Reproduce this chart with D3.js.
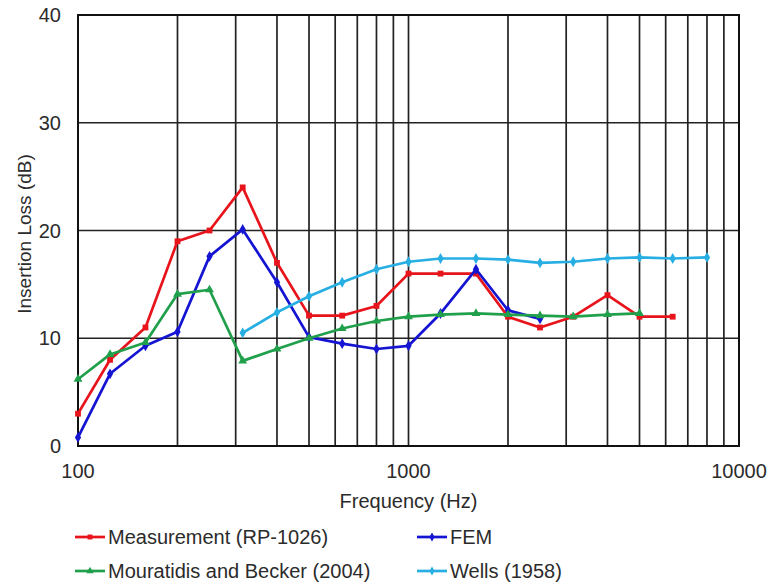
<!DOCTYPE html>
<html>
<head>
  <meta charset="utf-8">
  <script src="https://d3js.org/d3.v7.min.js"></script>
  <style>
    body { margin: 0; background: #fff; }
    text { font-family: "Liberation Sans", Arial, sans-serif; fill: #2b2b2b; }
  </style>
</head>
<body>
<script>
  var w = 771;
  var h = 585;

  // data
  var freqs = [100, 125, 160, 200, 250, 315, 400, 500, 630, 800, 1000, 1250, 1600, 2000, 2500, 3150, 4000, 5000, 6300, 8000];
  var measurement = [3.0, 8.0, 11.0, 19.0, 20.0, 24.0, 17.0, 12.1, 12.1, 13.0, 16.0, 16.0, 16.0, 12.0, 11.0, 12.0, 14.0, 12.0, 12.0, null];
  var fem = [0.8, 6.7, 9.3, 10.6, 17.6, 20.1, 15.2, 10.1, 9.5, 9.0, 9.3, 12.3, 16.4, 12.6, 11.8, null, null, null, null, null];
  var mouratidis = [6.2, 8.5, 9.6, 14.1, 14.5, 7.9, 9.0, 10.0, 10.9, 11.6, 12.0, 12.2, 12.3, 12.2, 12.1, 12.0, 12.2, 12.3, null, null];
  var wells = [null, null, null, null, null, 10.5, 12.4, 13.9, 15.2, 16.4, 17.1, 17.4, 17.4, 17.3, 17.0, 17.1, 17.4, 17.5, 17.4, 17.5];
  var seriesNames = ["Measurement (RP-1026)", "FEM", "Mouratidis and Becker (2004)", "Wells (1958)"];
  var seriesColors = ["#e8141c", "#1414d2", "#21a04c", "#27aee3"];
  var xTicks = [100, 1000, 10000];
  var yTicks = [0, 10, 20, 30, 40];

  var allSeries = [measurement, fem, mouratidis, wells];

  var pLeft = 78, pRight = 739, pTop = 15, pBottom = 446;

  var svg = d3.select("body").append("svg")
    .attr("width", w)
    .attr("height", h);

  var x = d3.scaleLog().domain([100, 10000]).range([pLeft, pRight]);
  var y = d3.scaleLinear().domain([0, 40]).range([pBottom, pTop]);

  // vertical grid at every log tick
  var gridX = x.ticks().filter(function(d){ return d > 100 && d < 10000; });
  svg.append("g").selectAll("line")
    .data(gridX)
    .enter().append("line")
    .attr("x1", function(d){ return x(d); })
    .attr("x2", function(d){ return x(d); })
    .attr("y1", pTop)
    .attr("y2", pBottom)
    .attr("stroke", "#222")
    .attr("stroke-width", 1.7);

  svg.append("g").selectAll("line")
    .data(yTicks.slice(1, -1))
    .enter().append("line")
    .attr("x1", pLeft)
    .attr("x2", pRight)
    .attr("y1", function(d){ return y(d); })
    .attr("y2", function(d){ return y(d); })
    .attr("stroke", "#222")
    .attr("stroke-width", 1.7);

  svg.append("rect")
    .attr("x", pLeft).attr("y", pTop)
    .attr("width", pRight - pLeft).attr("height", pBottom - pTop)
    .attr("fill", "none")
    .attr("stroke", "#111")
    .attr("stroke-width", 2);

  // tick labels
  svg.append("g").selectAll("text")
    .data(xTicks)
    .enter().append("text")
    .attr("x", function(d){ return x(d); })
    .attr("y", 478)
    .attr("text-anchor", "middle")
    .attr("font-size", 20)
    .text(function(d){ return d; });

  svg.append("g").selectAll("text")
    .data(yTicks)
    .enter().append("text")
    .attr("x", 61)
    .attr("y", function(d){ return y(d) + 7; })
    .attr("text-anchor", "end")
    .attr("font-size", 20)
    .text(function(d){ return d; });

  svg.append("text")
    .attr("x", x(1000))
    .attr("y", 508)
    .attr("text-anchor", "middle")
    .attr("font-size", 20)
    .text("Frequency (Hz)");

  svg.append("text")
    .attr("transform", "translate(31,234) rotate(-90)")
    .attr("text-anchor", "middle")
    .attr("font-size", 19)
    .text("Insertion Loss (dB)");

  var line = d3.line()
    .defined(function(d){ return d[1] != null; })
    .x(function(d){ return x(d[0]); })
    .y(function(d){ return y(d[1]); });

  var markerShapes = [d3.symbolSquare, d3.symbolDiamond, d3.symbolTriangle, d3.symbolDiamond];

  allSeries.forEach(function(vals, i){
    var pts = freqs.map(function(f, j){ return [f, vals[j]]; });
    svg.append("path")
      .datum(pts)
      .attr("d", line)
      .attr("fill", "none")
      .attr("stroke", seriesColors[i])
      .attr("stroke-width", 2.7)
      .attr("stroke-linejoin", "round");
    svg.append("g").selectAll("path")
      .data(pts.filter(function(d){ return d[1] != null; }))
      .enter().append("path")
      .attr("d", d3.symbol().type(markerShapes[i]).size(34))
      .attr("transform", function(d){ return "translate(" + x(d[0]) + "," + y(d[1]) + ")"; })
      .attr("fill", seriesColors[i]);
  });

  // legend
  var legX = [75, 417];
  var legY = [537, 571];
  seriesNames.forEach(function(name, i){
    var lx = legX[i % 2], ly = legY[Math.floor(i / 2)];
    var g = svg.append("g");
    g.append("line")
      .attr("x1", lx).attr("x2", lx + 30)
      .attr("y1", ly).attr("y2", ly)
      .attr("stroke", seriesColors[i])
      .attr("stroke-width", 2.7);
    g.append("path")
      .attr("d", d3.symbol().type(markerShapes[i]).size(24))
      .attr("transform", "translate(" + (lx + 15) + "," + ly + ")")
      .attr("fill", seriesColors[i]);
    g.append("text")
      .attr("x", lx + 33)
      .attr("y", ly + 7)
      .attr("font-size", 20)
      .text(name);
  });
</script>
</body>
</html>
